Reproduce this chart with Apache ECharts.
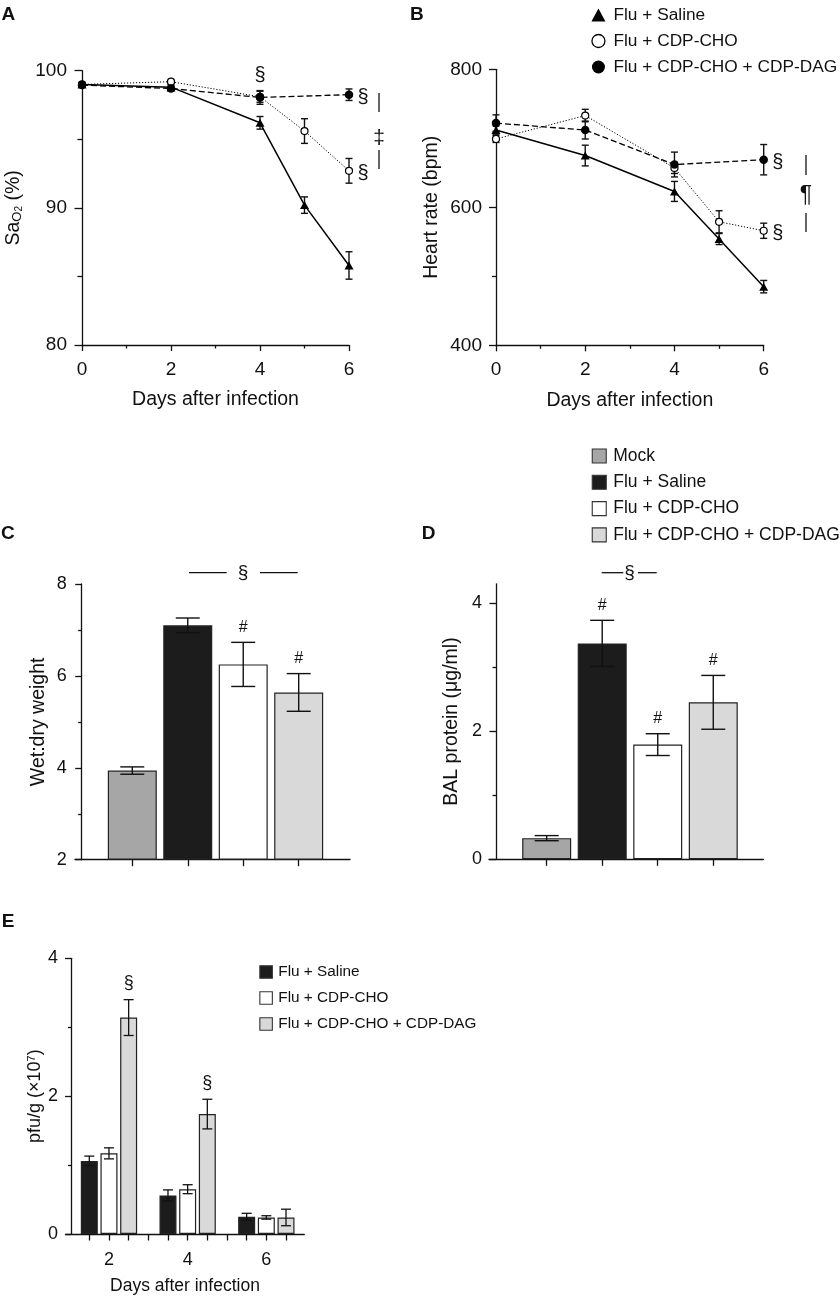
<!DOCTYPE html>
<html>
<head>
<meta charset="utf-8">
<script src="https://cdn.jsdelivr.net/npm/echarts@6/dist/echarts.min.js"></script>
<style>
html, body { margin: 0; padding: 0; background: #fff; }
#chart { width: 840px; height: 1299px; }
</style>
</head>
<body>
<div id="chart"></div>
<script>
// ================= DATA =================
const groupNames = ['Flu + Saline', 'Flu + CDP-CHO', 'Flu + CDP-CHO + CDP-DAG'];
const barNames = ['Mock', 'Flu + Saline', 'Flu + CDP-CHO', 'Flu + CDP-CHO + CDP-DAG'];

// Panel A / B : days after infection
const daysSaline = [0, 2, 4, 5, 6];
const daysCho = [0, 2, 4, 5, 6];
const daysDag = [0, 2, 4, 6];
const dayTicks = [0, 2, 4, 6];

// Panel A : SaO2 (%)
const saO2Saline = [99.0, 98.8, 96.2, 90.2, 85.8];
const saO2SalineErr = [0.15, 0.2, 0.46, 0.6, 1.0];
const saO2Cho = [99.0, 99.2, 98.1, 95.6, 92.7];
const saO2ChoErr = [0.1, 0.1, 0.4, 0.9, 0.9];
const saO2Dag = [98.95, 98.7, 98.05, 98.25];
const saO2DagErr = [0.15, 0.2, 0.5, 0.42];
const saO2ChoSig = ['', '', '', '', '§'];
const saO2DagSig = ['', '', '', '§'];

// Panel B : heart rate (bpm)
const hrSaline = [712, 675, 623, 554, 485];
const hrSalineErr = [6, 15, 14.5, 8, 9];
const hrCho = [699, 733, 657, 579, 566];
const hrChoErr = [5, 9, 8, 16, 11];
const hrDag = [722, 712, 662, 669];
const hrDagErr = [12, 13, 18, 22];
const hrChoSig = ['', '', '', '', '§'];
const hrDagSig = ['', '', '', '§'];

// Panel C : wet:dry weight
const wetDry = [3.94, 7.1, 6.25, 5.64];
const wetDryErr = [0.08, 0.16, 0.48, 0.41];
const wetDrySig = ['', '', '#', '#'];

// Panel D : BAL protein (ug/ml)
const balProtein = [0.33, 3.37, 1.79, 2.45];
const balProteinErr = [0.04, 0.36, 0.17, 0.42];
const balProteinSig = ['', '#', '#', '#'];

// Panel E : pfu/g (x10^7)
const pfuDays = ['2', '4', '6'];
const pfuSaline = [1.06, 0.56, 0.25];
const pfuSalineErr = [0.07, 0.08, 0.05];
const pfuCho = [1.17, 0.65, 0.24];
const pfuChoErr = [0.08, 0.065, 0.025];
const pfuDag = [3.14, 1.74, 0.24];
const pfuDagErr = [0.26, 0.215, 0.12];
const pfuSalineSig = ['', '', ''];
const pfuChoSig = ['', '', ''];
const pfuDagSig = ['§', '§', ''];

// ================= STYLE =================
const FONT = "'Liberation Sans', Arial, Helvetica, sans-serif";
const INK = '#111';
const barColors = ['#a6a6a6', '#1c1c1c', '#ffffff', '#d9d9d9'];
const lineStyleAx = { color: INK, width: 1.3 };

// bar slot positions from indices
const barPos = barNames.map((_, i) => i + 1);                 // C, D
const slotsPerDay = groupNames.length + 1;                     // E
const pfuPos = (s) => pfuDays.map((_, g) => g * slotsPerDay + s + 1);
const pfuTickPos = [];
for (let p = 1; p < pfuDays.length * slotsPerDay; p++) pfuTickPos.push(p);
const pfuLabelPos = pfuDays.map((_, g) => g * slotsPerDay + 2);

function yAxisBase(extra) {
  return Object.assign({
    type: 'value',
    position: 'left',
    axisLine: { show: true, onZero: false, lineStyle: lineStyleAx },
    axisTick: { show: true, length: 7, lineStyle: lineStyleAx },
    minorTick: { show: true, splitNumber: 2, length: 4, lineStyle: lineStyleAx },
    splitLine: { show: false },
    minorSplitLine: { show: false },
    axisLabel: { color: INK, fontFamily: FONT, fontSize: 19, margin: 15 },
    nameLocation: 'middle',
    nameRotate: 90,
    nameTextStyle: { color: INK, fontFamily: FONT, fontSize: 19.5 }
  }, extra);
}
function xAxisBase(extra) {
  return Object.assign({
    type: 'value',
    position: 'bottom',
    axisLine: { show: true, onZero: false, lineStyle: lineStyleAx },
    axisTick: { show: true, length: 6, lineStyle: lineStyleAx },
    splitLine: { show: false },
    minorSplitLine: { show: false },
    axisLabel: { color: INK, fontFamily: FONT, fontSize: 19, margin: 15 },
    nameLocation: 'middle',
    nameTextStyle: { color: INK, fontFamily: FONT, fontSize: 19.5 }
  }, extra);
}

function errorBarSeries(axisIdx, xs, ys, errs, sig, look) {
  return {
    type: 'custom', xAxisIndex: axisIdx, yAxisIndex: axisIdx, z: look.z, silent: true, clip: false,
    data: xs.map((x, i) => [x, ys[i] - errs[i], ys[i] + errs[i], ys[i], i]),
    renderItem: (params, api) => {
      const x = api.value(0);
      const lo = api.coord([x, api.value(1)]);
      const hi = api.coord([x, api.value(2)]);
      const mid = api.coord([x, api.value(3)]);
      const h = look.cap / 2;
      const st = { stroke: INK, lineWidth: look.width };
      const kids = [
        { type: 'line', shape: { x1: lo[0], y1: lo[1], x2: hi[0], y2: hi[1] }, style: st },
        { type: 'line', shape: { x1: hi[0] - h, y1: hi[1], x2: hi[0] + h, y2: hi[1] }, style: st },
        { type: 'line', shape: { x1: lo[0] - h, y1: lo[1], x2: lo[0] + h, y2: lo[1] }, style: st }
      ];
      const mark = sig && sig[api.value(4)];
      if (mark) {
        const right = look.sigPlace === 'right';
        const px = right ? mid[0] + look.sigDx : hi[0];
        const py = right ? mid[1] + look.sigDy : hi[1] - look.sigDy;
        kids.push({
          type: 'text', x: px, y: py,
          style: { text: mark, font: look.sigFont, fill: INK, align: 'center', verticalAlign: 'middle',
                   textAlign: 'center', textVerticalAlign: 'middle' }
        });
      }
      return { type: 'group', children: kids };
    }
  };
}

function lineSeries(name, axisIdx, days, vals, kind) {
  const cfg = {
    saline: { symbol: 'triangle', size: [9, 8], line: 'solid', w: 1.5, fill: '#000', bw: 0 },
    cho: { symbol: 'circle', size: 7, line: [1.2, 1.8], w: 1, fill: '#fff', bw: 1.2 },
    dag: { symbol: 'circle', size: 8.5, line: [6, 3], w: 1.3, fill: '#000', bw: 0 }
  }[kind];
  return {
    type: 'line', name, xAxisIndex: axisIdx, yAxisIndex: axisIdx, z: 3,
    data: days.map((d, i) => [d, vals[i]]),
    symbol: cfg.symbol, symbolSize: cfg.size, showSymbol: true,
    itemStyle: { color: cfg.fill, borderColor: '#000', borderWidth: cfg.bw },
    lineStyle: { color: '#000', width: cfg.w, type: cfg.line }
  };
}

const lineLook = { z: 2, cap: 7, width: 1.4, sigPlace: 'right', sigDx: 14, sigDy: 3, sigFont: '20px ' + FONT };
const barLookCD = { z: 4, cap: 24, width: 1.4, sigPlace: 'top', sigDy: 15, sigFont: '16px ' + FONT };
const barLookE = { z: 4, cap: 10, width: 1.3, sigPlace: 'top', sigDy: 16.5, sigFont: '18px ' + FONT };

function barSeries(name, axisIdx, xs, vals, color, width) {
  return {
    type: 'bar', name, xAxisIndex: axisIdx, yAxisIndex: axisIdx, z: 2, clip: true,
    barWidth: width, barGap: '-100%',
    data: xs.map((x, i) => [x, vals[i]]),
    itemStyle: { color, borderColor: '#222', borderWidth: 1.2 }
  };
}

const series = [
  // ---- A ----
  lineSeries(groupNames[0], 0, daysSaline, saO2Saline, 'saline'),
  lineSeries(groupNames[1], 0, daysCho, saO2Cho, 'cho'),
  lineSeries(groupNames[2], 0, daysDag, saO2Dag, 'dag'),
  errorBarSeries(0, daysSaline, saO2Saline, saO2SalineErr, null, lineLook),
  errorBarSeries(0, daysCho, saO2Cho, saO2ChoErr, saO2ChoSig, lineLook),
  errorBarSeries(0, daysDag, saO2Dag, saO2DagErr, saO2DagSig, lineLook),
  // ---- B ----
  lineSeries(groupNames[0], 1, daysSaline, hrSaline, 'saline'),
  lineSeries(groupNames[1], 1, daysCho, hrCho, 'cho'),
  lineSeries(groupNames[2], 1, daysDag, hrDag, 'dag'),
  errorBarSeries(1, daysSaline, hrSaline, hrSalineErr, null, lineLook),
  errorBarSeries(1, daysCho, hrCho, hrChoErr, hrChoSig, lineLook),
  errorBarSeries(1, daysDag, hrDag, hrDagErr, hrDagSig, lineLook)
];
// ---- C & D ----
barNames.forEach((name, i) => {
  series.push(barSeries(name, 2, [barPos[i]], [wetDry[i]], barColors[i], 49));
  series.push(barSeries(name, 3, [barPos[i]], [balProtein[i]], barColors[i], 49));
});
series.push(errorBarSeries(2, barPos, wetDry, wetDryErr, wetDrySig, barLookCD));
series.push(errorBarSeries(3, barPos, balProtein, balProteinErr, balProteinSig, barLookCD));
// ---- E ----
const pfuVals = [pfuSaline, pfuCho, pfuDag];
const pfuErrs = [pfuSalineErr, pfuChoErr, pfuDagErr];
const pfuSigs = [pfuSalineSig, pfuChoSig, pfuDagSig];
groupNames.forEach((name, s) => {
  series.push(barSeries(name, 4, pfuPos(s), pfuVals[s], barColors[s + 1], 17));
  series.push(errorBarSeries(4, pfuPos(s), pfuVals[s], pfuErrs[s], pfuSigs[s], barLookE));
});

const legendText = (size, padLeft) => ({ color: INK, fontFamily: FONT, fontSize: size, padding: [0, 0, 0, padLeft] });
const T = (text, x, y, font, align) => ({ type: 'text', x, y, style: { text, font, fill: INK,
  align: align || 'center', textAlign: align || 'center', verticalAlign: 'middle', textVerticalAlign: 'middle' } });
const L = (x1, y1, x2, y2) => ({ type: 'line', shape: { x1, y1, x2, y2 }, style: { stroke: INK, lineWidth: 1.3 } });

const option = {
  animation: false,
  backgroundColor: '#fff',
  textStyle: { fontFamily: FONT, color: INK },
  grid: [
    { left: 82, top: 70.7, width: 267, height: 274.3, outerBoundsMode: 'none' },
    { left: 496, top: 69.3, width: 267.7, height: 276, outerBoundsMode: 'none' },
    { left: 75, top: 584, width: 275, height: 275.7, outerBoundsMode: 'none' },
    { left: 489, top: 583.8, width: 274.3, height: 275.5, outerBoundsMode: 'none' },
    { left: 65.7, top: 958.3, width: 238.6, height: 275.7, outerBoundsMode: 'none' }
  ],
  xAxis: [
    xAxisBase({ gridIndex: 0, min: dayTicks[0], max: dayTicks[dayTicks.length - 1], interval: 2, name: 'Days after infection', nameGap: 45,
      axisTick: { show: true, length: 6, lineStyle: lineStyleAx },
      minorTick: { show: true, splitNumber: 2, length: 3.5, lineStyle: lineStyleAx } }),
    xAxisBase({ gridIndex: 1, min: dayTicks[0], max: dayTicks[dayTicks.length - 1], interval: 2, name: 'Days after infection', nameGap: 45,
      axisTick: { show: true, length: 6, lineStyle: lineStyleAx },
      minorTick: { show: true, splitNumber: 2, length: 3.5, lineStyle: lineStyleAx } }),
    xAxisBase({ gridIndex: 2, min: -0.033, max: 4.925,
      axisTick: { show: true, length: 6.5, customValues: barPos, lineStyle: lineStyleAx },
      axisLabel: { show: false } }),
    xAxisBase({ gridIndex: 3, min: -0.039, max: 4.901,
      axisTick: { show: true, length: 6.5, customValues: barPos, lineStyle: lineStyleAx },
      axisLabel: { show: false } }),
    xAxisBase({ gridIndex: 4, min: -0.2, max: 11.93,
      axisTick: { show: true, length: 6.5, customValues: pfuTickPos, lineStyle: lineStyleAx },
      axisLabel: { color: INK, fontFamily: FONT, fontSize: 18, margin: 17, customValues: pfuLabelPos,
        formatter: (v) => pfuDays[Math.round((v - 2) / slotsPerDay)] },
      name: 'Days after infection', nameGap: 43, nameTextStyle: { color: INK, fontFamily: FONT, fontSize: 17.5 } })
  ],
  yAxis: [
    yAxisBase({ gridIndex: 0, min: 80, max: 100, interval: 10, name: 'Sa{sub|O}{sub2|2} (%)', nameGap: 58,
      axisTick: { show: true, length: 7.5, lineStyle: lineStyleAx },
      minorTick: { show: true, splitNumber: 2, length: 4.5, lineStyle: lineStyleAx },
      nameTextStyle: { color: INK, fontFamily: FONT, fontSize: 19.5,
        rich: { sub: { fontFamily: FONT, fontSize: 13, verticalAlign: 'bottom', color: INK },
                sub2: { fontFamily: FONT, fontSize: 10, verticalAlign: 'bottom', color: INK } } } }),
    yAxisBase({ gridIndex: 1, min: 400, max: 800, interval: 200, name: 'Heart rate (bpm)', nameGap: 54,
      axisLabel: { color: INK, fontFamily: FONT, fontSize: 19, margin: 14 } }),
    yAxisBase({ gridIndex: 2, min: 2, max: 8, interval: 2, startValue: 2, offset: -6.7, name: 'Wet:dry weight', nameGap: 33,
      axisTick: { show: true, length: 6.5, lineStyle: lineStyleAx },
      minorTick: { show: true, splitNumber: 2, length: 3.5, lineStyle: lineStyleAx },
      axisLabel: { color: INK, fontFamily: FONT, fontSize: 18, margin: 15 } }),
    yAxisBase({ gridIndex: 3, min: 0, max: 4.3, offset: -7, name: 'BAL protein (μg/ml)', nameGap: 34,
      axisTick: { show: true, length: 6.5, customValues: [0, 2, 4], lineStyle: lineStyleAx },
      minorTick: { show: false },
      axisLabel: { color: INK, fontFamily: FONT, fontSize: 18, margin: 14, customValues: [0, 2, 4] } }),
    yAxisBase({ gridIndex: 4, min: 0, max: 4, interval: 2, offset: -5.3, name: 'pfu/g (×10{sup|7})', nameGap: 26,
      axisTick: { show: true, length: 6, lineStyle: lineStyleAx },
      minorTick: { show: true, splitNumber: 2, length: 3, lineStyle: lineStyleAx },
      axisLabel: { color: INK, fontFamily: FONT, fontSize: 18, margin: 13 },
      nameTextStyle: { color: INK, fontFamily: FONT, fontSize: 18,
        rich: { sup: { fontFamily: FONT, fontSize: 11, verticalAlign: 'top', color: INK } } } }),
    // D minor ticks (same scale, same side)
    yAxisBase({ gridIndex: 3, min: 0, max: 4.3, offset: -7, position: 'left',
      axisLine: { show: false, onZero: false },
      axisTick: { show: true, length: 3.5, customValues: [1, 3], lineStyle: lineStyleAx },
      minorTick: { show: false }, axisLabel: { show: false } })
  ],
  legend: [
    { orient: 'vertical', left: 591.3, top: 6.5, padding: 0, itemWidth: 14, itemHeight: 13, itemGap: 9, selectedMode: false,
      textStyle: legendText(17.3, 3),
      data: [
        { name: groupNames[0], icon: 'triangle', itemStyle: { color: '#000', borderWidth: 0 } },
        { name: groupNames[1], icon: 'circle', itemStyle: { color: '#fff', borderColor: '#000', borderWidth: 1.3 } },
        { name: groupNames[2], icon: 'circle', itemStyle: { color: '#000', borderWidth: 0 } }
      ] },
    { orient: 'vertical', left: 591.7, top: 447, padding: 0, itemWidth: 14, itemHeight: 14, itemGap: 8.3, selectedMode: false,
      textStyle: legendText(17.5, 2),
      data: barNames.map((n, i) => ({ name: n, icon: 'rect',
        itemStyle: { color: barColors[i], borderColor: '#333', borderWidth: 1.1 } })) },
    { orient: 'vertical', left: 259.3, top: 964.5, padding: 0, itemWidth: 12.5, itemHeight: 12.5, itemGap: 11, selectedMode: false,
      textStyle: legendText(15.3, 1),
      data: groupNames.map((n, i) => ({ name: n, icon: 'rect',
        itemStyle: { color: barColors[i + 1], borderColor: '#333', borderWidth: 1.1 } })) }
  ],
  graphic: [
    // panel letters
    T('A', 1.5, 15, 'bold 19px ' + FONT, 'left'),
    T('B', 410, 14.5, 'bold 19px ' + FONT, 'left'),
    T('C', 1, 533.3, 'bold 19px ' + FONT, 'left'),
    T('D', 421.7, 533.3, 'bold 19px ' + FONT, 'left'),
    T('E', 1.7, 921.7, 'bold 19px ' + FONT, 'left'),
    // A annotations
    T('§', 260, 75, '20px ' + FONT),
    L(379, 93, 379, 112),
    L(379, 150, 379, 169),
    T('‡', 379, 138, '21px ' + FONT),
    // B annotations
    L(806, 155, 806, 175),
    L(806, 213, 806, 232),
    T('¶', 806, 196, '23px ' + FONT),
    // C bracket
    L(189, 572.7, 226.7, 572.7),
    L(260, 572.7, 297.7, 572.7),
    T('§', 243, 573, '19px ' + FONT),
    // D bracket
    L(601.7, 572.7, 623.3, 572.7),
    L(638, 572.7, 656.7, 572.7),
    T('§', 629.5, 573, '19px ' + FONT)
  ],
  series
};

const chart = echarts.init(document.getElementById('chart'), null, { renderer: 'canvas' });
chart.setOption(option);
</script>
</body>
</html>
